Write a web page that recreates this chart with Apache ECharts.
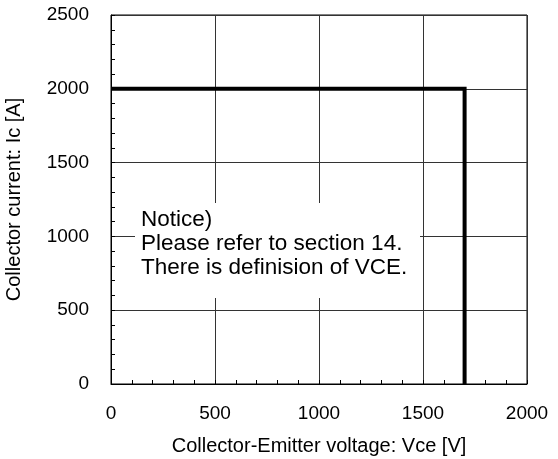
<!DOCTYPE html>
<html>
<head>
<meta charset="utf-8">
<script src="https://cdn.jsdelivr.net/npm/echarts@6/dist/echarts.min.js"></script>
<style>
  html, body { margin: 0; padding: 0; background: #fff; }
  #chart { width: 558px; height: 459px; }
</style>
</head>
<body>
<div id="chart"></div>
<script>
// safe operating area outline: Vce [V], Ic [A]
const vce = [0, 1700, 1700];
const ic = [2000, 2000, 0];
const noticeLines = [
  "Notice)",
  "Please refer to section 14.",
  "There is definision of VCE."
];

const font = "Liberation Sans, Arial, sans-serif";
const chart = echarts.init(document.getElementById("chart"));

const option = {
  animation: false,
  backgroundColor: "#fff",
  grid: {
    left: 111,
    right: 31,
    top: 15,
    bottom: 75,
    outerBoundsMode: "none",
    containLabel: false,
    show: true,
    borderColor: "#000",
    borderWidth: 1,
  },
  xAxis: {
    type: "value",
    min: 0,
    max: 2000,
    interval: 500,
    name: "Collector-Emitter voltage: Vce [V]",
    nameLocation: "middle",
    nameGap: 52,
    nameTextStyle: { color: "#000", fontSize: 20, fontFamily: font },
    axisLine: { show: true, lineStyle: { color: "#000", width: 1 } },
    axisTick: { show: true, inside: true, length: 4, lineStyle: { color: "#000" } },
    minorTick: { show: true, splitNumber: 5, length: 4, lineStyle: { color: "#000" } },
    axisLabel: { color: "#000", fontSize: 19, fontFamily: font, margin: 20, formatter: (v) => String(v) },
    splitLine: { show: true, lineStyle: { color: "#333", width: 1 } },
  },
  yAxis: {
    type: "value",
    min: 0,
    max: 2500,
    interval: 500,
    name: "Collector current: Ic [A]",
    nameLocation: "middle",
    nameGap: 87,
    nameTextStyle: { color: "#000", fontSize: 20, fontFamily: font },
    axisLine: { show: true, lineStyle: { color: "#000", width: 1 } },
    axisTick: { show: true, inside: true, length: 4, lineStyle: { color: "#000" } },
    minorTick: { show: true, splitNumber: 5, length: 4, lineStyle: { color: "#000" } },
    axisLabel: { color: "#000", fontSize: 19, fontFamily: font, margin: 22, formatter: (v) => String(v) },
    splitLine: { show: true, lineStyle: { color: "#333", width: 1 } },
  },
  series: [
    {
      type: "line",
      data: vce.map((v, i) => [v, ic[i]]),
      symbol: "none",
      lineStyle: { color: "#000", width: 4, join: "miter" },
      z: 3,
    },
  ],
  graphic: [
    {
      type: "rect",
      left: 135,
      top: 203,
      z: 100,
      shape: { width: 285, height: 95 },
      style: { fill: "#fff" },
    },
    {
      type: "text",
      left: 141,
      top: 208,
      z: 101,
      style: {
        text: noticeLines.join("\n"),
        fill: "#000",
        fontSize: 22.5,
        fontFamily: font,
        lineHeight: 24,
      },
    },
  ],
};

chart.setOption(option);
</script>
</body>
</html>
